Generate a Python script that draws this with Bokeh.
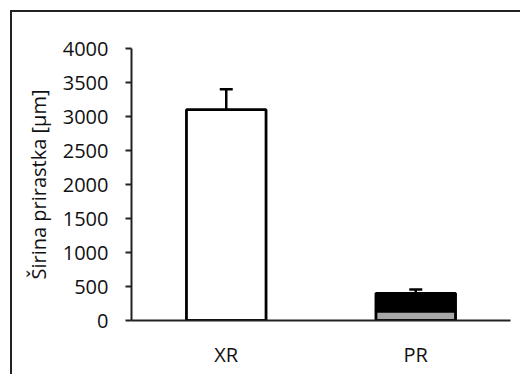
from bokeh.plotting import figure
from bokeh.models import ColumnDataSource, Whisker, TeeHead, FixedTicker, Range1d
from bokeh.embed import file_html
from bokeh.resources import INLINE

# Data
categories = ["XR", "PR"]
bottom_part = [3100, 140]     # lower segment (XR whole bar, PR gray part)
top_part = [0, 260]           # upper segment (PR black part)
errors = [300, 55]
y_ticks = [0, 500, 1000, 1500, 2000, 2500, 3000, 3500, 4000]

totals = [b + t for b, t in zip(bottom_part, top_part)]
upper = [t + e for t, e in zip(totals, errors)]

FONT = "Open Sans"

p = figure(x_range=categories, y_range=Range1d(0, 4000),
           width=510, height=364, output_backend="svg", toolbar_location=None,
           min_border_left=119, min_border_top=36, min_border_right=12,
           min_border_bottom=56)
p.styles = {"border-top": "2px solid #222", "border-left": "2px solid #222",
            "margin-left": "10px", "margin-top": "10px"}
p.outline_line_color = None
p.xgrid.grid_line_color = None
p.ygrid.grid_line_color = None
p.background_fill_color = "white"

src_low = ColumnDataSource(dict(cat=categories, top=bottom_part,
                                fill=["white", "#a8a8a8"]))
src_high = ColumnDataSource(dict(cat=[categories[1]], bottom=[bottom_part[1]],
                                 top=[totals[1]]))
p.vbar(x="cat", top="top", bottom=0, width=0.42, source=src_low,
       fill_color="fill", line_color="black", line_width=2.8)
p.vbar(x="cat", top="top", bottom="bottom", width=0.42, source=src_high,
       fill_color="black", line_color="black", line_width=2.8)

err_src = ColumnDataSource(dict(cat=categories, base=totals, upper=upper))
w = Whisker(source=err_src, base="cat", lower="base", upper="upper",
            line_color="black", line_width=2.5,
            upper_head=TeeHead(size=13, line_color="black", line_width=2.5),
            lower_head=None)
p.add_layout(w)

p.yaxis.ticker = FixedTicker(ticks=y_ticks)
p.yaxis.axis_label = "Širina prirastka [µm]"
p.yaxis.axis_label_text_font = FONT
p.yaxis.axis_label_text_font_style = "normal"
p.yaxis.axis_label_text_font_size = "20px"
p.yaxis.axis_label_text_color = "#111"
p.yaxis.axis_label_standoff = 8
p.yaxis.major_label_text_font = FONT
p.yaxis.major_label_text_font_size = "20px"
p.yaxis.major_label_text_color = "#111"
p.yaxis.major_label_standoff = 17
p.yaxis.major_tick_out = 6
p.yaxis.major_tick_in = 0
p.yaxis.minor_tick_line_color = None
p.yaxis.axis_line_width = 2
p.yaxis.major_tick_line_width = 2
p.yaxis.axis_line_color = "#222"
p.yaxis.major_tick_line_color = "#222"

p.xaxis.major_tick_line_color = None
p.xaxis.minor_tick_line_color = None
p.xaxis.axis_line_width = 2
p.xaxis.axis_line_color = "#222"
p.xaxis.major_label_text_font = FONT
p.xaxis.major_label_text_font_size = "20px"
p.xaxis.major_label_text_color = "#111"
p.xaxis.major_label_standoff = 14

open("out.html", "w").write(file_html(p, INLINE))
